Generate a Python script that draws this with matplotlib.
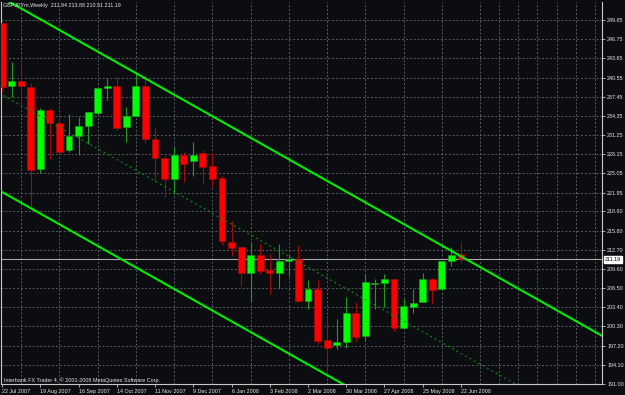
import matplotlib
matplotlib.use("Agg")
import matplotlib.pyplot as plt
import matplotlib.transforms as mtransforms

# weekly GBPJPYm candles, 22 Jul 2007 .. 22 Jun 2008
opens = [249.4, 239.1, 240.0, 239.0, 225.7, 235.26, 233.2, 228.9, 231.1, 232.7,
         234.8, 238.9, 239.2, 232.6, 234.3, 239.15, 230.56, 227.6, 224.2, 228.1,
         227.0, 228.4, 226.2, 224.3, 214.0, 213.1, 209.0, 211.9, 209.4, 208.95,
         210.9, 211.2, 204.35, 206.35, 198.07, 197.27, 197.86, 202.4, 198.8, 207.2,
         207.25, 207.97, 200.1, 203.5, 204.2, 207.9, 206.35, 210.83, 211.94]
highs = [249.6, 243.1, 244.2, 239.6, 235.6, 235.6, 234.8, 234.6, 234.2, 234.9,
         238.9, 240.4, 240.66, 235.8, 241.5, 241.2, 232.45, 228.1, 229.3, 228.5,
         230.1, 228.9, 228.4, 224.7, 217.4, 213.1, 213.9, 213.6, 212.0, 213.7,
         211.85, 213.4, 207.86, 207.86, 201.75, 201.5, 205.0, 204.2, 208.8, 207.9,
         208.8, 208.0, 204.8, 206.35, 208.9, 208.2, 210.9, 213.1, 213.88]
lows = [238.2, 237.4, 236.4, 219.6, 225.05, 227.3, 228.0, 228.5, 228.0, 229.75,
        234.7, 236.9, 232.0, 230.1, 234.3, 229.9, 223.9, 221.2, 221.75, 223.6,
        224.7, 223.4, 222.8, 213.4, 211.75, 206.9, 204.3, 208.8, 205.6, 206.6,
        208.5, 204.3, 203.2, 197.5, 192.5, 196.7, 196.9, 198.0, 198.0, 203.2,
        203.4, 199.6, 200.1, 202.4, 204.2, 203.9, 206.3, 210.1, 210.51]
closes = [239.0, 240.0, 239.1, 225.65, 235.26, 233.2, 228.5, 231.1, 232.7, 234.9,
          238.8, 239.15, 232.45, 234.3, 239.15, 230.67, 227.6, 224.2, 228.1, 226.5,
          228.1, 226.07, 224.2, 214.07, 213.05, 208.95, 211.9, 209.2, 208.95, 210.9,
          211.2, 204.35, 206.35, 197.97, 196.9, 197.8, 202.4, 198.67, 207.5, 207.4,
          207.97, 200.03, 203.6, 204.1, 207.9, 206.24, 210.83, 211.9, 211.19]

date_ticks = [0, 4, 8, 12, 16, 20, 24, 28, 32, 36, 40, 44, 48]
date_labels = ["22 Jul 2007", "19 Aug 2007", "16 Sep 2007", "14 Oct 2007",
               "11 Nov 2007", "9 Dec 2007", "6 Jan 2008", "3 Feb 2008",
               "2 Mar 2008", "30 Mar 2008", "27 Apr 2008", "25 May 2008",
               "22 Jun 2008"]
price_ticks = [191.00, 194.10, 197.20, 200.30, 203.40, 206.50, 209.60, 212.70,
               215.80, 218.90, 221.95, 225.05, 228.15, 231.25, 234.35, 237.45,
               240.55, 243.65, 246.75, 249.85]
price_labels = ["%.2f" % p for p in price_ticks]

# channel lines: (bar, price) end points
upper_x, upper_y = [-1, 63], [254.32, 198.58]
lower_x, lower_y = [-1, 63], [222.91, 167.17]
mid_x, mid_y = [-1, 63], [238.62, 182.88]

last_price = 211.19
header = "GBPJPYm,Weekly  211.94 213.88 210.51 211.19"
footer = "Interbank FX Trader 4, \u00a9 2001-2008 MetaQuotes Software Corp."

bg = "#0b0d10"
fg = "#e8e8e8"
grid_col = "#5a5d63"
fonts = ["Liberation Sans", "DejaVu Sans"]
fsize = 3.9

W, H = 625, 395
fig = plt.figure(figsize=(W / 100, H / 100), dpi=100, facecolor=bg)
ax = fig.add_axes([1.5 / W, 11 / H, 600.5 / W, 382 / H], facecolor=bg)

ax.set_xlim(-0.06, 62.75)
ax.set_ylim(191.0, 252.76)

# grid
ax.set_xticks(date_ticks, date_labels)
ax.set_xticks(range(0, 63, 2), minor=True)
ax.set_yticks(price_ticks, price_labels)
ax.grid(axis="x", which="minor", color=grid_col, linestyle=(0, (2, 2)), lw=0.7)
ax.grid(axis="y", which="major", color=grid_col, linestyle=(0, (2, 2)), lw=0.7)
ax.set_axisbelow(True)

# candles
for i in range(len(opens)):
    o, h, l, c = opens[i], highs[i], lows[i], closes[i]
    up = c >= o
    body = "#00ff00" if up else "#ff0000"
    wick = "#1f9a1f" if up else "#a00c0c"
    ax.vlines(i, l, h, color=wick, lw=0.8, zorder=3)
    hgt = max(abs(c - o), 0.2)
    ax.bar(i, hgt, bottom=min(o, c), width=0.72, color=body,
           edgecolor=wick, linewidth=0.4, zorder=4)

# channel
ax.plot(upper_x, upper_y, color="#00ee00", lw=1.5, zorder=5)
ax.plot(lower_x, lower_y, color="#00ee00", lw=1.5, zorder=5)
ax.plot(mid_x, mid_y, color="#0a8a0a", lw=0.9, linestyle=(0, (1.5, 2.5)), zorder=5)

# current price line
ax.axhline(last_price, color="#a8a8a8", lw=0.8, zorder=2)

for s in ["left", "right", "bottom"]:
    ax.spines[s].set_color("#c8c8c8")
    ax.spines[s].set_linewidth(0.8)
ax.spines["top"].set_visible(False)

ax.tick_params(axis="y", which="major", left=False, right=True, labelleft=False,
               labelright=True, length=2.5, width=0.6, pad=1.2, colors="#c8c8c8",
               labelcolor=fg, labelsize=fsize)
ax.tick_params(axis="x", which="major", length=2.5, width=0.6, pad=1.0,
               colors="#c8c8c8", labelcolor=fg, labelsize=fsize)
ax.tick_params(axis="x", which="minor", length=0)
for t in ax.get_xticklabels():
    t.set_horizontalalignment("left")
    t.set_family(fonts)
for t in ax.get_yticklabels():
    t.set_family(fonts)

# last price box on the price scale
trans = mtransforms.blended_transform_factory(ax.transAxes, ax.transData)
ax.text(1.0 + 3 / 600.5, last_price, "211.19", transform=trans, ha="left",
        va="center", fontsize=fsize, family=fonts, color="black", zorder=10,
        bbox=dict(boxstyle="square,pad=0.2", facecolor="white", edgecolor="white"),
        clip_on=False)

fig.text(3 / W, 1 - 6 / H, header, ha="left", va="center", color=fg,
         fontsize=fsize, family=fonts)
fig.text(4 / W, 1 - 380 / H, footer, ha="left", va="center", color=fg,
         fontsize=fsize, family=fonts)

fig.savefig("out.png", dpi=100, facecolor=bg)
